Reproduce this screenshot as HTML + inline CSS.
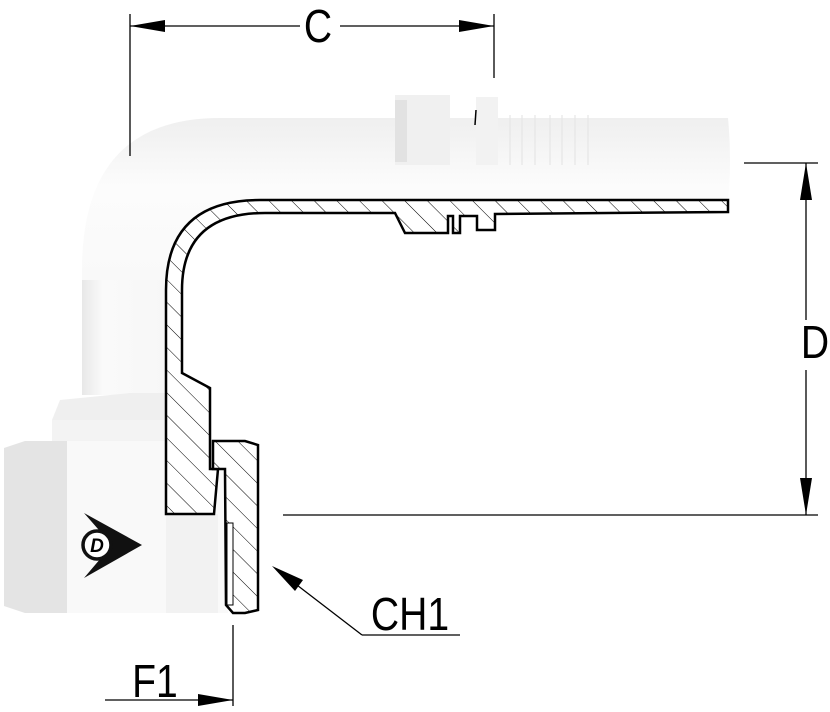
<!DOCTYPE html>
<html><head><meta charset="utf-8"><style>
html,body{margin:0;padding:0;background:#fff;}
svg{display:block;}
text{font-family:"Liberation Sans",sans-serif;fill:#000;}
</style></head><body>
<svg width="830" height="712" viewBox="0 0 830 712" xmlns="http://www.w3.org/2000/svg">
<defs>
<pattern id="h" patternUnits="userSpaceOnUse" width="16" height="16" patternTransform="rotate(-45)">
<rect width="16" height="16" fill="#fff"/><line x1="0" y1="0" x2="0" y2="16" stroke="#000" stroke-width="1"/>
</pattern>
<linearGradient id="tubeV" x1="0" y1="0" x2="1" y2="0">
<stop offset="0" stop-color="#e8e8e8"/><stop offset="0.25" stop-color="#fafafa"/><stop offset="1" stop-color="#f7f7f7"/>
</linearGradient>
<linearGradient id="tubeH" x1="0" y1="0" x2="0" y2="1">
<stop offset="0" stop-color="#efefef"/><stop offset="0.25" stop-color="#fcfcfc"/><stop offset="1" stop-color="#f5f5f5"/>
</linearGradient>
</defs>

<!-- body shading -->
<path d="M82,395 L82,270 Q82,118 220,118 L728,118 Q732,160 728,200 L260,200 Q166,200 166,290 L166,395 Z" fill="url(#tubeH)"/>
<path d="M82,395 L82,280 L166,280 L166,395 Z" fill="url(#tubeV)"/>
<!-- fitting hex/ferrule on stem -->
<rect x="395" y="95" width="55" height="70" fill="#f0f0f0"/>
<rect x="395" y="100" width="12" height="62" fill="#e2e2e2"/>
<rect x="476" y="97" width="22" height="68" fill="#f2f2f2"/>
<line x1="476" y1="110" x2="475" y2="125" stroke="#000" stroke-width="1.5"/>
<g stroke="#e6e6e6" stroke-width="1.2"><line x1="510" y1="115" x2="510" y2="165"/><line x1="522" y1="115" x2="522" y2="165"/><line x1="535" y1="115" x2="535" y2="165"/><line x1="550" y1="115" x2="550" y2="165"/><line x1="562" y1="115" x2="562" y2="165"/><line x1="575" y1="115" x2="575" y2="165"/><line x1="588" y1="115" x2="588" y2="165"/></g>
<!-- collar -->
<path d="M52,420 L60,400 L130,393 L166,393 L166,441 L52,441 Z" fill="#efefef"/>
<rect x="52" y="420" width="114" height="21" fill="#f3f3f3"/>
<!-- hex -->
<path d="M4,448 L25,441 L228,441 L228,613 L25,613 L4,606 Z" fill="#f9f9f9"/>
<path d="M4,448 L25,441 L67,441 L67,613 L25,613 L4,606 Z" fill="#e4e4e4"/>
<rect x="166" y="514" width="52" height="99" fill="#f2f2f2"/>

<!-- tube section -->
<path d="M166,514 L166,290 Q166,200 260,200 L728,200 L728,212 L495,214 L495,230 L477,230 L477,216 L460,216 L460,233 L453,233 L453,216 L448,216 L448,233 L405,233 L395,213 L265,213 Q182,213 182,290 L182,373 L210,388 L210,469 L218,469 L214,514 Z" fill="url(#h)" stroke="#000" stroke-width="2.5" stroke-linejoin="miter"/>
<!-- nut section -->
<path d="M213,441 L245,441 L258,445 L258,610 L245,613 L233,613 L226,605 L225,469 L213,469 Z" fill="url(#h)" stroke="#000" stroke-width="2.5"/>
<rect x="227" y="523" width="6" height="82" fill="#fff" stroke="#000" stroke-width="1"/>

<!-- Dunlop logo -->
<path d="M84,513 L142,545 L84,578 L112,545 Z" fill="#111"/>
<circle cx="97" cy="545" r="14" fill="#fff" stroke="#111" stroke-width="3.5"/>
<text x="97" y="552" font-size="19" font-weight="bold" font-style="italic" text-anchor="middle" font-family="Liberation Serif,serif">D</text>

<!-- dimension lines -->
<g stroke="#000" stroke-width="1.3" fill="none">
<line x1="130" y1="14" x2="130" y2="156"/>
<line x1="494" y1="14" x2="494" y2="78"/>
<line x1="130" y1="26" x2="300" y2="26"/>
<line x1="340" y1="26" x2="494" y2="26"/>
<line x1="744" y1="163" x2="818" y2="163"/>
<line x1="283" y1="515" x2="818" y2="515"/>
<line x1="806" y1="163" x2="806" y2="320"/>
<line x1="806" y1="370" x2="806" y2="515"/>
<line x1="233" y1="625" x2="233" y2="706"/>
<line x1="105" y1="700" x2="233" y2="700"/>
<line x1="280" y1="572" x2="362" y2="635"/>
<line x1="362" y1="635" x2="460" y2="635"/>
</g>
<g fill="#000">
<path d="M130,26 L165,20 L165,32 Z"/>
<path d="M494,26 L459,20 L459,32 Z"/>
<path d="M806,163 L800,200 L812,200 Z"/>
<path d="M806,515 L800,478 L812,478 Z"/>
<path d="M233,700 L198,694 L198,706 Z"/>
<path d="M272,566 L303,580 L295,591 Z"/>
</g>
<text x="318" y="42" font-size="46" text-anchor="middle" transform="translate(318,0) scale(0.85,1) translate(-318,0)">C</text>
<text x="815" y="358" font-size="46" text-anchor="middle" transform="translate(815,0) scale(0.85,1) translate(-815,0)">D</text>
<text x="155" y="697" font-size="46" text-anchor="middle" transform="translate(155,0) scale(0.85,1) translate(-155,0)">F1</text>
<text x="410" y="630" font-size="46" text-anchor="middle" transform="translate(410,0) scale(0.85,1) translate(-410,0)">CH1</text>
</svg>
</body></html>
